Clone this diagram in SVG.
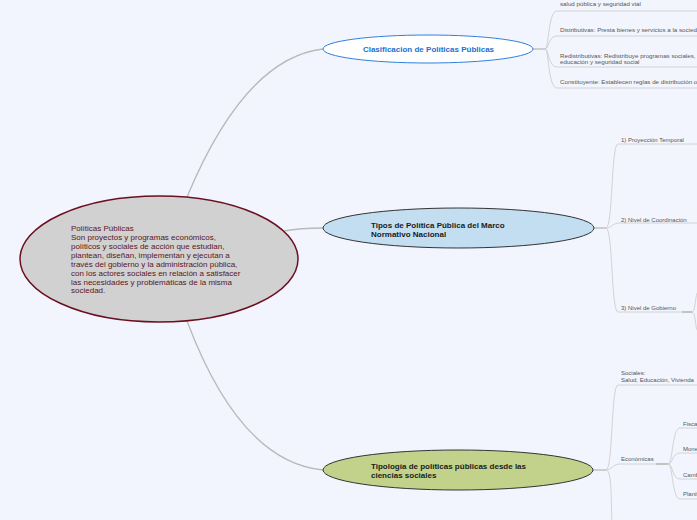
<svg xmlns="http://www.w3.org/2000/svg" width="697" height="520" viewBox="0 0 697 520">
<style>
.bg{fill:#f2f5fd}
.main{fill:none;stroke:#b9b9b9;stroke-width:1.3}
.sub{fill:none;stroke:#c9c9c9;stroke-width:0.8}
.thick{fill:none;stroke:#c2c2c2;stroke-width:2}
.ct{font-family:"Liberation Sans",Arial,sans-serif;font-size:8px;fill:#5a1622}
.nt{font-family:"Liberation Sans",Arial,sans-serif;font-size:8px;font-weight:bold;fill:#1a1a1a}
.lt{font-family:"Liberation Sans",Arial,sans-serif;font-size:6px;fill:#555}
.lt2{font-family:"Liberation Sans",Arial,sans-serif;font-size:6.2px;fill:#555}
</style>
<rect class="bg" x="0" y="0" width="697" height="520"/>
<g id="connectors">
<path class="main" d="M187,197 Q245,58 323,49"/>
<path class="main" d="M284,231 Q300,228 323,228"/>
<path class="main" d="M187,321 Q240,462 323,470"/>
<path class="main" d="M532,49 H545"/>
<path class="sub" d="M545,49 C549,49 548,11 557,11 H697"/>
<path class="sub" d="M545,49 C549,49 548,36 557,36 H697"/>
<path class="sub" d="M545,49 C549,49 548,67 557,67 H697"/>
<path class="sub" d="M545,49 C549,49 548,88 557,88 H697"/>
<path class="main" d="M594,228 H606"/>
<path class="sub" d="M606,228 C613,228 611,144 618,144 H697"/>
<path class="sub" d="M606,228 C612,228 612,223 620,223 H697"/>
<path class="sub" d="M606,228 C613,228 611,312 618,312 H683"/>
<path class="thick" d="M682,312 H692"/>
<path class="sub" d="M692,312 C696,312 695,293 698,292"/>
<path class="sub" d="M692,312 C696,312 695,330 698,331"/>
<path class="main" d="M593,470 H606"/>
<path class="sub" d="M606,470 C613,470 611,385 618,385 H697"/>
<path class="sub" d="M606,470 C612,470 612,464 620,464 H657"/>
<path class="sub" d="M606,470 C612,470 611,500 612,525"/>
<path class="thick" d="M656,464 H668"/>
<path class="sub" d="M668,464 C673,464 672,428 680,428 H697"/>
<path class="sub" d="M668,464 C673,464 672,453 680,453 H697"/>
<path class="sub" d="M668,464 C673,464 672,479 680,479 H697"/>
<path class="sub" d="M668,464 C673,464 672,499 680,499 H697"/>
</g>
<g id="central">
<ellipse cx="159" cy="259" rx="139" ry="63" fill="#d1d1d1" stroke="#6b0f1f" stroke-width="1.5"/>
<text class="ct" x="71" y="231">Políticas Públicas</text>
<text class="ct" x="71" y="240">Son proyectos y programas económicos,</text>
<text class="ct" x="71" y="249">políticos y sociales de acción que estudian,</text>
<text class="ct" x="71" y="258">plantean, diseñan, implementan y ejecutan a</text>
<text class="ct" x="71" y="266.7">través del gobierno y la administración pública,</text>
<text class="ct" x="71" y="275.6">con los actores sociales en relación a satisfacer</text>
<text class="ct" x="71" y="284.5">las necesidades y problemáticas de la misma</text>
<text class="ct" x="71" y="293.4">sociedad.</text>
</g>
<g id="clasificacion">
<ellipse cx="428" cy="49" rx="105" ry="14" fill="#ffffff" stroke="#2f80e0" stroke-width="1"/>
<text class="nt" x="428.5" y="51.8" text-anchor="middle" style="fill:#1c6fd0">Clasificacion de Políticas Públicas</text>
</g>
<g id="clasificacion-hijos">
<text class="lt2" x="560" y="6">salud pública y seguridad vial</text>
<text class="lt2" x="560" y="31.5">Distributivas: Presta bienes y servicios a la sociedad</text>
<text class="lt2" x="560" y="58">Redistributivas: Redistribuye programas sociales,</text>
<text class="lt2" x="560" y="64">educación y seguridad social</text>
<text class="lt2" x="560" y="84">Constituyente: Establecen reglas de distribución o</text>
</g>
<g id="tipos">
<ellipse cx="458.5" cy="228" rx="135.5" ry="20" fill="#c3def0" stroke="#333" stroke-width="1"/>
<text class="nt" x="371" y="227.8">Tipos de Política Pública del Marco</text>
<text class="nt" x="371" y="236.8">Normativo Nacional</text>
</g>
<g id="tipos-hijos">
<text class="lt" x="621" y="141.5">1) Proyección Temporal</text>
<text class="lt" x="621" y="221.5">2) Nivel de Coordinación</text>
<text class="lt" x="621" y="309.5">3) Nivel de Gobierno</text>
</g>
<g id="tipologia">
<ellipse cx="458" cy="470" rx="135" ry="20" fill="#c2d28a" stroke="#333" stroke-width="1"/>
<text class="nt" x="371" y="468.8">Tipología de políticas públicas desde las</text>
<text class="nt" x="371" y="477.8">ciencias sociales</text>
</g>
<g id="tipologia-hijos">
<text class="lt" x="621" y="375">Sociales:</text>
<text class="lt" x="621" y="381.5">Salud, Educación, Vivienda</text>
<text class="lt" x="621" y="461">Económicas</text>
<text class="lt" x="683" y="425.5">Fiscal</text>
<text class="lt" x="683" y="451">Monetaria</text>
<text class="lt" x="683" y="477">Cambiaria</text>
<text class="lt" x="683" y="496">Planificación</text>
</g>
</svg>
